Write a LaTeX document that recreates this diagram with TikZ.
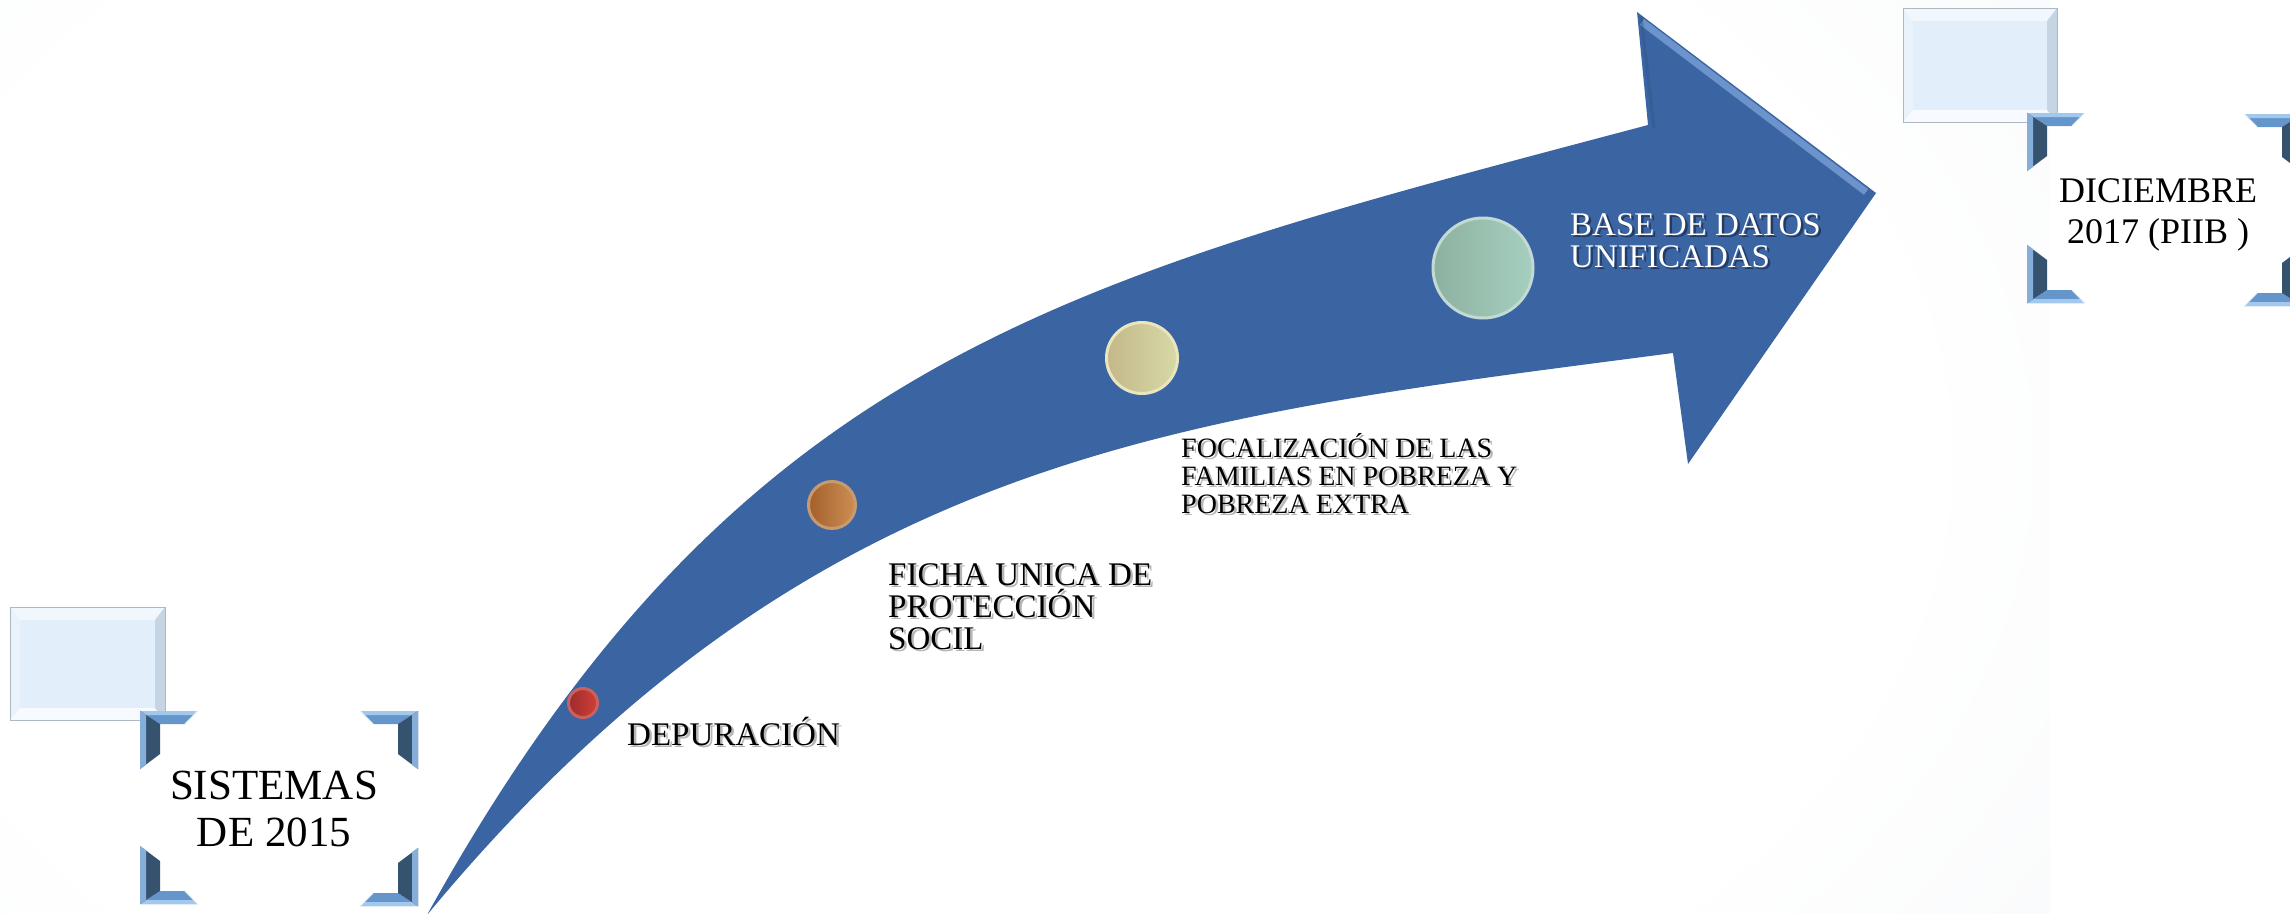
\documentclass[tikz,border=0pt]{standalone}
\usepackage{fontspec}
\setmainfont{Liberation Serif}
\definecolor{bgc}{HTML}{EBEFF2}
\definecolor{arrowblue}{HTML}{3B65A2}
\definecolor{headhl}{HTML}{7DA3DA}
\definecolor{brlight}{HTML}{A2C8EE}
\definecolor{brmid}{HTML}{6596CB}
\definecolor{brdark}{HTML}{35536F}
\definecolor{brouter}{HTML}{86AEDA}
\definecolor{redL}{HTML}{D43E38}
\definecolor{redD}{HTML}{9C2C2C}
\definecolor{redR}{HTML}{C9625E}
\definecolor{brnL}{HTML}{CE8E52}
\definecolor{brnD}{HTML}{A3602C}
\definecolor{brnR}{HTML}{C89A70}
\definecolor{begL}{HTML}{D6D9A6}
\definecolor{begD}{HTML}{C4B88A}
\definecolor{begR}{HTML}{E9E6BE}
\definecolor{grnL}{HTML}{A6CFC0}
\definecolor{grnD}{HTML}{8DB19F}
\definecolor{grnR}{HTML}{C2DAD3}
\definecolor{bvface}{HTML}{E2EFFB}
\definecolor{bvtop}{HTML}{F1F7FD}
\definecolor{bvbot}{HTML}{F7FBFF}
\definecolor{bvright}{HTML}{C6D5E4}
\definecolor{bvleft}{HTML}{EAF3FC}
\definecolor{bvline}{HTML}{AEB8C2}
\definecolor{shgray}{HTML}{B4B6B8}
\definecolor{shblue}{HTML}{223A66}
\pgfdeclareradialshading{bgglow}{\pgfpoint{0bp}{0bp}}{color(0bp)=(white); color(22bp)=(white); color(50bp)=(bgc); color(75bp)=(bgc)}

\newcommand\bracketpiece[4]{%
 \begin{scope}[shift={(#1,#2)}, xscale=#3, yscale=#4]
  \fill[brmid] (0,0) -- (58,0) -- (45,13) -- (20,13) -- cycle;
  \fill[brlight] (0,0) -- (58,0) -- (53,4) -- (5,4) -- cycle;
  \draw[white, opacity=.8, line width=1.2pt] (58,0) -- (45,13);
  \fill[brdark] (0,0) -- (20,13) -- (20,43) -- (0,58) -- cycle;
  \fill[brouter] (0,0) -- (6,4) -- (6,54) -- (0,58) -- cycle;
 \end{scope}}

\newcommand\bevelrect[4]{%
  \fill[bvtop] (#1,#2) -- (#3,#2) -- (#3-10,#2+13) -- (#1+10,#2+13) -- cycle;
  \fill[bvbot] (#1,#4) -- (#3,#4) -- (#3-10,#4-12) -- (#1+10,#4-12) -- cycle;
  \fill[bvright] (#3,#2) -- (#3,#4) -- (#3-10,#4-12) -- (#3-10,#2+13) -- cycle;
  \fill[bvleft] (#1,#2) -- (#1,#4) -- (#1+10,#4-12) -- (#1+10,#2+13) -- cycle;
  \fill[bvface] (#1+10,#2+13) rectangle (#3-10,#4-12);
  \draw[bvline, line width=1pt] (#1,#2) rectangle (#3,#4);}

% text with a drop shadow, in one box
\newcommand\shd[2]{\makebox[0pt][l]{\hspace{2.5pt}\raisebox{-2pt}{\textcolor{#1}{#2}}}#2}

\begin{document}
\begin{tikzpicture}[x=1pt,y=-1pt,
  lbltext/.style={anchor=base west, inner sep=0pt, text=black, font=\fontsize{33}{33}\selectfont},
  smalltext/.style={anchor=base west, inner sep=0pt, text=black, font=\fontsize{28}{28}\selectfont},
  whitetext/.style={anchor=base west, inner sep=0pt, text=white, font=\fontsize{33}{33}\selectfont},
  titletext/.style={anchor=base, inner sep=0pt, text=black, font=\fontsize{43}{47}\selectfont},
  dictext/.style={anchor=base, inner sep=0pt, text=black, font=\fontsize{36}{41}\selectfont},
  dot/.style={circle, inner sep=0pt, line width=3pt}]
\useasboundingbox (0,0) rectangle (2290,913);
\clip (0,0) rectangle (2290,913);
\shade[shading=bgglow] (-250,-300) rectangle (2050,1213);

% arrow
\fill[arrowblue] (427,915) .. controls (738,354) and (1068,279) .. (1648,125)
  -- (1637,12) -- (1876,193) -- (1688,464) -- (1673,353)
  .. controls (1177,418) and (811,452) .. (427,915) -- cycle;
\begin{scope}
  \clip (1637,12) -- (1876,193) -- (1688,464) -- (1650,125) -- cycle;
  \draw[headhl, line width=7pt, opacity=.75] (1642,22) -- (1866,192);
  \draw[arrowblue!80!black, line width=3pt, opacity=.4] (1641,16) -- (1654,128);
\end{scope}

% dots
\node[dot, left color=redD, right color=redL, draw=redR, minimum size=29pt] (d1) at (583,703) {};
\node[dot, left color=brnD, right color=brnL, draw=brnR, minimum size=47pt] (d2) at (832,505) {};
\node[dot, left color=begD, right color=begL, draw=begR, minimum size=71pt] (d3) at (1142,358) {};
\node[dot, left color=grnD, right color=grnL, draw=grnR, minimum size=100pt] (d4) at (1483,268) {};

% labels
\node[lbltext] (dep) at (627,745) {\shd{shgray}{DEPURACIÓN}};
\node[lbltext] (ficha1) at (888,585) {\shd{shgray}{FICHA UNICA DE}};
\node[lbltext] (ficha2) at (888,617) {\shd{shgray}{PROTECCIÓN}};
\node[lbltext] (ficha3) at (888,649) {\shd{shgray}{SOCIL}};
\node[smalltext] (foc1) at (1181,457) {\shd{shgray}{FOCALIZACIÓN DE LAS}};
\node[smalltext] (foc2) at (1181,485) {\shd{shgray}{FAMILIAS EN POBREZA Y}};
\node[smalltext] (foc3) at (1181,513) {\shd{shgray}{POBREZA EXTRA}};
\node[whitetext] (base1) at (1570,235) {\shd{shblue}{BASE DE DATOS}};
\node[whitetext] (base2) at (1570,267) {\shd{shblue}{UNIFICADAS}};

% left frame
\bevelrect{10}{607}{165}{720}
\bracketpiece{140}{711}{1}{1}
\bracketpiece{418}{711}{-1}{1}
\bracketpiece{140}{904}{1}{-1}
\bracketpiece{418}{906}{-1}{-1}
\node[titletext] (sis1) at (274,799) {SISTEMAS};
\node[titletext] (sis2) at (274,846) {DE 2015};

% right frame
\bevelrect{1903}{8}{2057}{122}
\bracketpiece{2027}{113}{1}{1}
\bracketpiece{2302}{114}{-1}{1}
\bracketpiece{2027}{303}{1}{-1}
\bracketpiece{2302}{306}{-1}{-1}
\node[dictext] (dic1) at (2158,202) {DICIEMBRE};
\node[dictext] (dic2) at (2158,243) {2017 (PIIB )};
\end{tikzpicture}
\end{document}
